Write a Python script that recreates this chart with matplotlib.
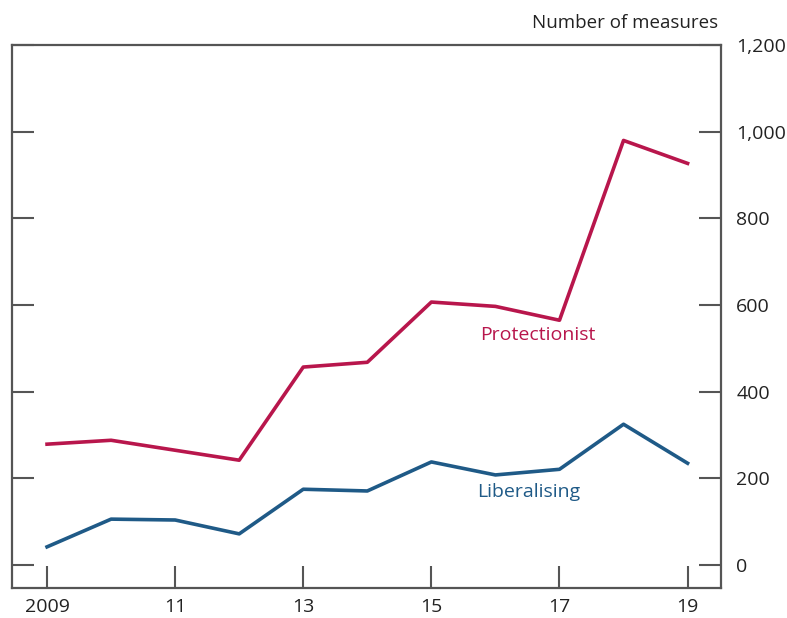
import matplotlib
matplotlib.use("Agg")
import matplotlib.pyplot as plt

years = [2009, 2010, 2011, 2012, 2013, 2014, 2015, 2016, 2017, 2018, 2019]
protectionist = [279, 288, 265, 242, 457, 468, 607, 597, 565, 980, 927]
liberalising = [42, 106, 104, 72, 175, 171, 238, 208, 221, 325, 235]

xticks = [2009, 2011, 2013, 2015, 2017, 2019]
xlabels = ['2009', '11', '13', '15', '17', '19']
yticks = [0, 200, 400, 600, 800, 1000, 1200]

plt.rcParams['font.family'] = ['Open Sans', 'DejaVu Sans']

fig = plt.figure(figsize=(7.87, 6.18), dpi=100)
ax = fig.add_axes([0.015, 0.0485, 0.901, 0.8785])

red = '#b8164c'
blue = '#1f5a87'
ax.plot(years, protectionist, color=red, lw=2.6)
ax.plot(years, liberalising, color=blue, lw=2.6)

ax.text(2016.66, 530, 'Protectionist', color=red, fontsize=14, ha='center', va='center')
ax.text(2016.52, 168, 'Liberalising', color=blue, fontsize=14, ha='center', va='center')

ax.set_xlim(2008.45, 2019.52)
ax.set_ylim(-53, 1200)

spine_col = '#555555'
for s in ax.spines.values():
    s.set_color(spine_col)
    s.set_linewidth(1.6)

ax.set_xticks(xticks)
ax.set_xticklabels(xlabels)
ax.set_yticks(yticks)
ax.set_yticklabels([f'{v:,}' for v in yticks])
ax.tick_params(axis='x', direction='in', length=16, width=1.5, color=spine_col,
               labelsize=14, labelcolor='#222222', pad=7)
ax.tick_params(axis='y', direction='in', length=16, width=1.5, color=spine_col,
               left=True, right=True, labelleft=False, labelright=True,
               labelsize=14, labelcolor='#222222', pad=11)

fig.text(0.913, 0.963, 'Number of measures', ha='right', va='center',
         fontsize=13.5, color='#222222')

fig.savefig('out.png', dpi=100)
